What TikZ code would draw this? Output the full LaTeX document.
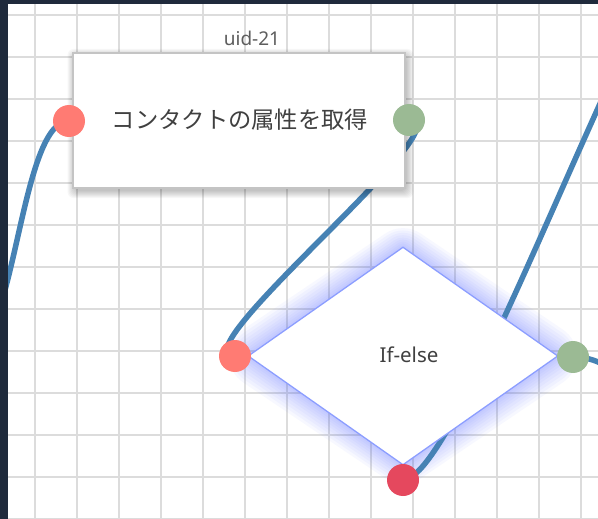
\documentclass[tikz,border=0pt]{standalone}
\usepackage{fontspec}
\setmainfont{Noto Sans}
\newfontfamily\jpfont{Noto Sans CJK JP}
\usetikzlibrary{shapes.geometric}
\definecolor{frame}{HTML}{1F2A3C}
\definecolor{gridc}{HTML}{DCDCDC}
\definecolor{wirec}{HTML}{4682B4}
\definecolor{inport}{HTML}{FF7B73}
\definecolor{outport}{HTML}{9BBA94}
\definecolor{elseport}{HTML}{E5485E}
\definecolor{dborder}{HTML}{8C9EFF}
\definecolor{glowc}{HTML}{6677FF}
\definecolor{boxborder}{HTML}{C4C4C4}
\definecolor{txt}{HTML}{404040}
\tikzset{
  wire/.style={draw=wirec, line width=5.5pt},
  port/.style={circle, minimum size=32pt, inner sep=0pt},
  taskbox/.style={draw=boxborder, line width=1.5pt, fill=white, minimum width=332pt, minimum height=135pt, inner sep=0pt},
  shadowlayer/.style={fill=black, fill opacity=0.03, rounded corners=6pt},
  decision/.style={diamond, minimum width=310pt, minimum height=218pt, inner sep=0pt},
  gridline/.style={draw=gridc, line width=1.5pt},
}
\begin{document}
\begin{tikzpicture}[x=1pt, y=-1pt]
\useasboundingbox (0,0) rectangle (598,519);
\clip (0,0) rectangle (598,519);
\fill[white] (0,0) rectangle (598,519);
% grid
\foreach \gx in {35,77,...,590} \draw[gridline] (\gx,0) -- (\gx,519);
\foreach \gy in {15,57,...,519} \draw[gridline] (0,\gy) -- (598,\gy);

% nodes positions
\coordinate (bc) at (239,120.5);
\coordinate (dc) at (403,356);

% glow of decision
\foreach \w in {64,56,48,40,32,25,18,12,6}
  \node[decision, draw=glowc, line width=\w pt, line join=round, draw opacity=0.05] at (dc) {};

% off-screen ends
\coordinate (srcA) at (-34,355);
\coordinate (dstB) at (720,-100);
\coordinate (dstC) at (700,430);

% port positions
\coordinate (p1inc) at (69,121);
\coordinate (p1outc) at (409,120);
\coordinate (p2inc) at (235,356);
\coordinate (p2outc) at (573,357);
\coordinate (p2elsec) at (403,480);

% wires
\draw[wire] (srcA) .. controls +(50,0) and +(-50,0) .. (p1inc);
\draw[wire] (p1outc) .. controls +(60,0) and +(-60,0) .. (p2inc);
\draw[wire] (p2elsec) .. controls +(60,0) and +(-60,0) .. (dstB);
\draw[wire] (p2outc) .. controls +(60,0) and +(-60,0) .. (dstC);

% task box shadow (soft, offset down-right)
\foreach \k in {1,2,...,8}
  \fill[shadowlayer] (74+1.5-\k,54+3-\k) rectangle (404+1.5+\k,187+3+\k);
% task box
\node[taskbox] (box) at (bc) {};
\node[text=txt, font=\jpfont\fontsize{23.3}{26}\selectfont] (boxlabel) at (240,120) {コンタクトの属性を取得};
\node[text=txt!85, font=\fontsize{19}{22}\selectfont] (uid) at (252,38) {uid-21};

% decision
\node[decision, draw=dborder, line width=1.3pt, fill=white] (ifelse) at (dc) {};
\node[text=txt, font=\fontsize{20.5}{24}\selectfont] (iflabel) at (409,355) {If-else};

% ports
\node[port, fill=inport] (p1in) at (p1inc) {};
\node[port, fill=outport] (p1out) at (p1outc) {};
\node[port, fill=inport] (p2in) at (p2inc) {};
\node[port, fill=outport] (p2out) at (p2outc) {};
\node[port, fill=elseport] (p2else) at (p2elsec) {};

% frame
\fill[frame] (0,0) rectangle (8,519);
\fill[frame] (0,0) rectangle (598,4);
\end{tikzpicture}
\end{document}
